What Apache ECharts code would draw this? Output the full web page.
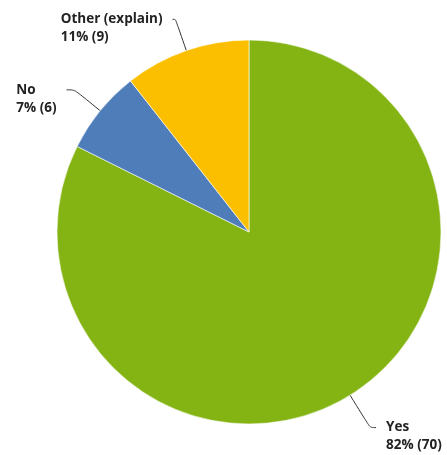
<!DOCTYPE html>
<html>
<head>
<meta charset="utf-8">
<script src="https://cdn.jsdelivr.net/npm/echarts@6/dist/echarts.min.js"></script>
<style>
  html, body { margin: 0; padding: 0; background: #fff; }
  #chartPie { width: 447px; height: 455px; }
</style>
</head>
<body>
<div id="chartPie"></div>
<script>
// answers, counts and shown percents
var answerNames = ['Yes', 'No', 'Other (explain)'];
var answerCounts = [70, 6, 9];
var answerPercents = [82, 7, 11];
var answerColors = ['#84B414', '#4F7DBA', '#FCBF00'];

var chart_pie = echarts.init(document.getElementById('chartPie'));

// per slice label line lengths
var lineLen = [[38, 6], [33, 8], [33, 3]];

chart_pie.setOption({
    animation: false,
    series: [{
        type: 'pie',
        center: [249, 232],
        radius: 192,
        startAngle: 90,
        clockwise: true,
        avoidLabelOverlap: false,
        itemStyle: { borderColor: '#fff', borderWidth: 0.6 },
        label: {
            show: true,
            position: 'outside',
            distanceToLabelLine: 10,
            padding: [18, 0, 0, 0],
            formatter: function (p) {
                var i = p.dataIndex;
                return '{a|' + answerNames[i] + '}\n{a|' + answerPercents[i] + '% (' + answerCounts[i] + ')}';
            },
            rich: {
                a: {
                    align: 'left',
                    fontFamily: 'Open Sans',
                    fontWeight: 'bold',
                    fontSize: 13.5,
                    lineHeight: 18,
                    color: '#222'
                }
            }
        },
        labelLine: {
            show: true,
            smooth: 0.3,
            lineStyle: { color: '#333', width: 1 }
        },
        data: (function () {
            var res = [];
            for (var i = 0; i < answerNames.length; i++) {
                var item = {
                    name: answerNames[i],
                    value: answerCounts[i],
                    itemStyle: { color: answerColors[i] },
                    labelLine: { length: lineLen[i][0], length2: lineLen[i][1] }
                };
                if (i === 0) item.label = { width: 75 };
                res.push(item);
            }
            return res;
        })()
    }]
});
</script>
</body>
</html>
